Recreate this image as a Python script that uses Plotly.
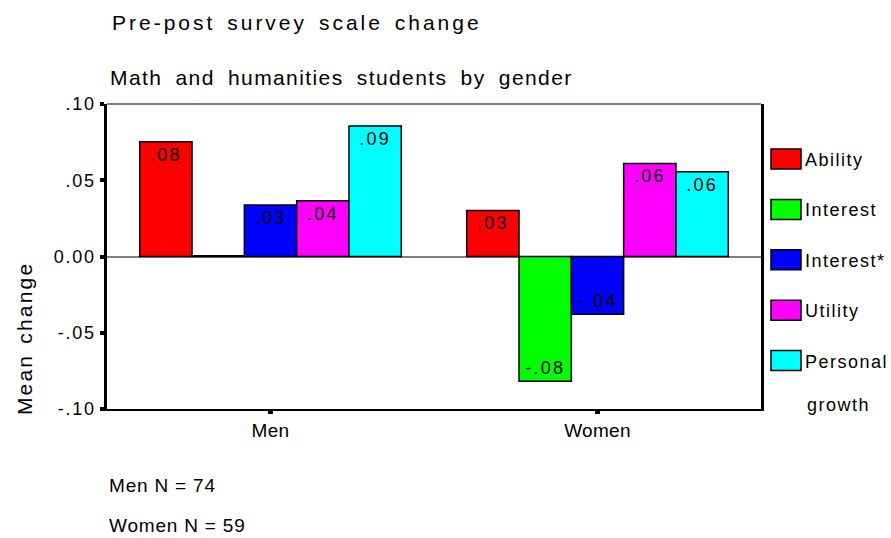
import json
import plotly.graph_objects as go

# ---------------- data ----------------
groups = ["Men", "Women"]
scales = ["Ability", "Interest", "Interest*", "Utility", "Personal growth"]
colors = ["#FF0000", "#00FF00", "#0000FF", "#FF00FF", "#00FFFF"]

ability = [0.0752, 0.0302]
interest = [0.0005, -0.0818]
interest_star = [0.0337, -0.0379]
utility = [0.0366, 0.0610]
personal_growth = [0.0856, 0.0556]
series = [ability, interest, interest_star, utility, personal_growth]

ytick_vals = [-0.10, -0.05, 0.0, 0.05, 0.10]
ytick_text = ["-.10", "-.05", "0.00", ".05", ".10"]

title_text = "Pre-post survey scale change"
subtitle_text = "Math and humanities students by gender"
ytitle_text = "Mean change"
n_men = 74
n_women = 59

# ---------------- layout geometry ----------------
W, H = 891, 538
L, R, T, B = 107, 761, 104, 409
FONT = "Liberation Sans, Arial, Helvetica, sans-serif"


def px_x(x):
    return (x - L) / (R - L)


def px_y(y):
    return (B - y) / (B - T)


def lab(v):
    r = round(v, 2)
    if r == 0:
        return ""
    return f"{r:.2f}".replace("0.", ".", 1)


fig = go.Figure()
for name, vals, col in zip(scales, series, colors):
    fig.add_trace(go.Bar(
        x=groups, y=vals, name=name,
        marker=dict(color=col, line=dict(color="black", width=1.5)),
        text=[lab(v) for v in vals],
        textposition="inside", insidetextanchor="end", textangle=0,
        textfont=dict(family=FONT, size=18, color="black"),
        hoverinfo="skip", cliponaxis=False,
    ))

annotations = []
shapes = []


def add_text(text, x, y, size, xanchor="left", align="left", angle=0):
    annotations.append(dict(
        text=text, x=px_x(x), y=px_y(y), xref="paper", yref="paper",
        xanchor=xanchor, yanchor="middle", align=align, showarrow=False,
        textangle=angle, font=dict(family=FONT, size=size, color="black"),
    ))


add_text(title_text, 110, 22, 21)
add_text(subtitle_text, 108, 78, 21)
add_text(ytitle_text, 24, 339, 21, xanchor="center", align="center", angle=-90)
add_text(f"Men N = {n_men}", 107, 485, 19)
add_text(f"Women N = {n_women}", 107, 525, 19)

# top border of the plot frame (grey in the reference)
shapes.append(dict(type="line", xref="paper", yref="paper", x0=0, x1=1, y0=1, y1=1,
                   line=dict(color="#7a7a7a", width=2)))

# legend (drawn manually to match the swatch style)
for i, (name, col) in enumerate(zip(scales, colors)):
    c = 160 + 50.4 * i
    shapes.append(dict(
        type="rect", xref="paper", yref="paper",
        x0=px_x(771), x1=px_x(801), y0=px_y(c - 11), y1=px_y(c + 9),
        fillcolor=col, line=dict(color="black", width=1.5),
    ))
    words = name.split(" ")
    add_text(words[0], 803, c, 18)
    if len(words) > 1:
        add_text(" ".join(words[1:]), 805, c + 43, 18)

fig.update_layout(
    width=W, height=H,
    margin=dict(l=L, r=W - R, t=T, b=H - B),
    paper_bgcolor="white", plot_bgcolor="white",
    barmode="group", bargap=0.2, bargroupgap=0,
    showlegend=False,
    font=dict(family=FONT, color="black"),
    annotations=annotations, shapes=shapes,
    xaxis=dict(
        type="category", range=[-0.5, 1.5],
        showline=True, linecolor="black", linewidth=2, mirror=False,
        ticks="outside", ticklen=3, tickwidth=5, tickcolor="black",
        tickfont=dict(family=FONT, size=19, color="black"),
        ticklabelstandoff=0,
        showgrid=False, zeroline=False, fixedrange=True,
    ),
    yaxis=dict(
        range=[-0.1, 0.1], tickvals=ytick_vals, ticktext=ytick_text,
        showline=True, linecolor="black", linewidth=2.5, mirror=True,
        ticks="outside", ticklen=4, tickwidth=4, tickcolor="black",
        tickfont=dict(family=FONT, size=18, color="black"),
        ticklabelstandoff=1,
        showgrid=False, zeroline=True, zerolinecolor="#808080", zerolinewidth=1.5,
        fixedrange=True,
    ),
)

spacing = {
    title_text: [3.0, 3.0],
    subtitle_text: [1.4, 6.0],
    ytitle_text: [2.2, 2.0],
    f"Men N = {n_men}": [0.8, 0.0],
    f"Women N = {n_women}": [0.8, 0.0],
}
post = """
document.documentElement.style.margin = '0';
document.body.style.margin = '0';
document.body.style.padding = '0';
var gd = document.getElementById('{plot_id}');
var SP = %s;
function applySpacing() {
  gd.querySelectorAll('text.annotation-text').forEach(function (t) {
    var s = SP[t.textContent];
    if (s) { t.style.letterSpacing = s[0] + 'px'; t.style.wordSpacing = s[1] + 'px'; }
    else { t.style.letterSpacing = '1.5px'; }
  });
  gd.querySelectorAll('g.ytick text').forEach(function (t) { t.style.letterSpacing = '1.7px'; });
  gd.querySelectorAll('g.xtick text').forEach(function (t) { t.style.letterSpacing = '0.3px'; });
  gd.querySelectorAll('text.bartext').forEach(function (t) { t.style.letterSpacing = '2.2px'; });
}
applySpacing();
gd.on('plotly_afterplot', applySpacing);
""" % json.dumps(spacing)

fig.write_html("out.html", post_script=post, config={"displayModeBar": False})
